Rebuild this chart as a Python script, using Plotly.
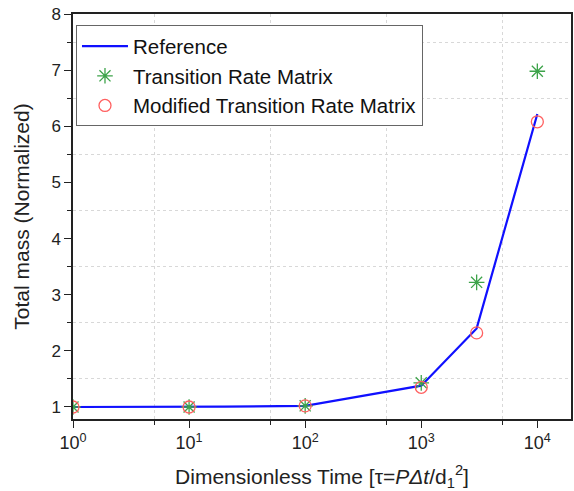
import plotly.graph_objects as go

# Dimensionless time points (tau)
tau_ref = [1, 10, 20, 100, 1000, 3000, 10000]
mass_ref = [1.0, 1.0, 1.005, 1.02, 1.38, 2.40, 6.22]

tau_pts = [1, 10, 100, 1000, 3000, 10000]
mass_trm = [1.0, 1.0, 1.02, 1.43, 3.22, 6.98]
mass_mtrm = [1.0, 1.0, 1.02, 1.35, 2.32, 6.08]

x_tickvals = [1, 10, 100, 1000, 10000]
x_ticktext = ["10<sup>0</sup>", "10<sup>1</sup>", "10<sup>2</sup>", "10<sup>3</sup>", "10<sup>4</sup>"]
x_minor = [5, 50, 500, 5000]

FONT = "Liberation Sans, Arial, sans-serif"

fig = go.Figure()
fig.add_trace(go.Scatter(
    x=tau_ref, y=mass_ref, mode="lines", name="Reference",
    line=dict(color="#1010ff", width=2.2),
))
fig.add_trace(go.Scatter(
    x=tau_pts, y=mass_trm, mode="markers", name="Transition Rate Matrix",
    marker=dict(symbol="asterisk-open", size=13, color="#3da34a",
                line=dict(color="#3da34a", width=1.3)),
))
fig.add_trace(go.Scatter(
    x=tau_pts, y=mass_mtrm, mode="markers", name="Modified Transition Rate Matrix",
    marker=dict(symbol="circle-open", size=12, color="#ff6060",
                line=dict(color="#ff6060", width=1.3)),
))

fig.update_layout(
    width=574, height=491,
    margin=dict(l=73, r=1, t=14, b=72),
    paper_bgcolor="white", plot_bgcolor="white",
    font=dict(family=FONT, size=17, color="#222"),
    showlegend=True,
    legend=dict(
        x=0.006, y=0.972, xanchor="left", yanchor="top",
        bgcolor="white", bordercolor="#666", borderwidth=1,
        font=dict(family=FONT, size=20.5, color="#111"),
        tracegroupgap=0, itemwidth=46,
    ),
    xaxis=dict(
        type="log", range=[0, 4.29],
        tickvals=x_tickvals, ticktext=x_ticktext,
        ticks="outside", ticklen=7, tickwidth=1.3, tickcolor="#222",
        showline=True, linecolor="#222", linewidth=1.5, mirror=True,
        showgrid=False, zeroline=False,
        tickfont=dict(family=FONT, size=18, color="#222"),
        minor=dict(tickvals=x_minor, ticks="outside", ticklen=4, tickwidth=1.2,
                   tickcolor="#222", showgrid=True, gridcolor="#d8d8d8",
                   griddash="dot", gridwidth=1),
        title=dict(text="Dimensionless Time [τ=<i>P</i><i>Δt</i>/d<sub>1</sub><sup>2</sup>]",
                   font=dict(family=FONT, size=21, color="#222"), standoff=17),
    ),
    yaxis=dict(
        range=[0.786, 8], dtick=1, tick0=0,
        ticks="outside", ticklen=7, tickwidth=1.3, tickcolor="#222",
        showline=True, linecolor="#222", linewidth=1.5, mirror=True,
        showgrid=False, zeroline=False,
        tickfont=dict(family=FONT, size=17, color="#222"),
        minor=dict(dtick=0.5, tick0=0.5, ticks="outside", ticklen=4, tickwidth=1.2,
                   tickcolor="#222", showgrid=True, gridcolor="#d8d8d8",
                   griddash="dot", gridwidth=1),
        title=dict(text="Total mass (Normalized)",
                   font=dict(family=FONT, size=21, color="#222"), standoff=16),
    ),
)

fig.write_html("out.html")
